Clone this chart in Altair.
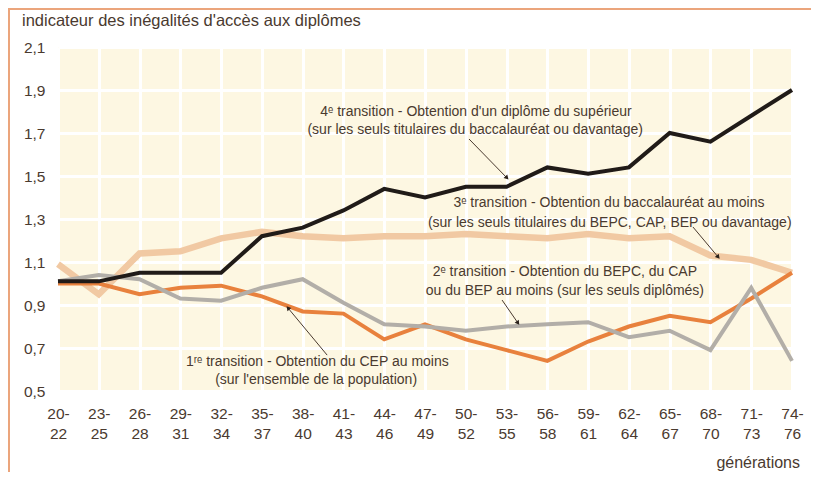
import altair as alt
import pandas as pd
import json

# ---------------- data ----------------
generations = ["20-22", "23-25", "26-28", "29-31", "32-34", "35-37", "38-40",
               "41-43", "44-46", "47-49", "50-52", "53-55", "56-58", "59-61",
               "62-64", "65-67", "68-70", "71-73", "74-76"]

t1_cep = [1.00, 1.00, 0.95, 0.98, 0.99, 0.94, 0.87, 0.86, 0.74, 0.81,
          0.74, 0.69, 0.64, 0.73, 0.80, 0.85, 0.82, 0.93, 1.05]
t2_bepc = [1.01, 1.04, 1.02, 0.93, 0.92, 0.98, 1.02, 0.91, 0.81, 0.80,
           0.78, 0.80, 0.81, 0.82, 0.75, 0.78, 0.69, 0.98, 0.64]
t3_bac = [1.09, 0.95, 1.14, 1.15, 1.21, 1.24, 1.22, 1.21, 1.22, 1.22,
          1.23, 1.22, 1.21, 1.23, 1.21, 1.22, 1.13, 1.11, 1.05]
t4_sup = [1.01, 1.01, 1.05, 1.05, 1.05, 1.22, 1.26, 1.34, 1.44, 1.40,
          1.45, 1.45, 1.54, 1.51, 1.54, 1.70, 1.66, 1.78, 1.90]

y_ticks = [0.5, 0.7, 0.9, 1.1, 1.3, 1.5, 1.7, 1.9, 2.1]

title_text = "indicateur des inégalités d'accès aux diplômes"
x_title_text = "générations"

ann_lines = [
    "4ᵉ transition - Obtention d'un diplôme du supérieur",
    "(sur les seuls titulaires du baccalauréat ou davantage)",
    "3ᵉ transition - Obtention du baccalauréat au moins",
    "(sur les seuls titulaires du BEPC, CAP, BEP ou davantage)",
    "2ᵉ transition - Obtention du BEPC, du CAP",
    "ou du BEP au moins (sur les seuls diplômés)",
    "1ʳᵉ transition - Obtention du CEP au moins",
    "(sur l'ensemble de la population)",
]
ann_x = [10.25, 10.23, 13.51, 13.53, 12.43, 12.43, 6.36, 6.33]
ann_y = [1.798, 1.714, 1.374, 1.281, 1.053, 0.965, 0.635, 0.551]

arrow_x = [10.08, 15.57, 10.89, 6.60]
arrow_y = [1.672, 1.263, 0.923, 0.667]
arrow_x2 = [11.01, 16.19, 11.28, 5.64]
arrow_y2 = [1.491, 1.123, 0.816, 0.886]
arrow_angle = [136, 140, 145, 320]

# ---------------- styles ----------------
FONT = "Liberation Sans"
TXT = "#4a3a2f"
PLOT_W, PLOT_H = 734, 344

label_pairs = [[g.split("-")[0] + "-", g.split("-")[1]] for g in generations]
x_label_expr = json.dumps(label_pairs) + "[datum.value]"

x_scale = alt.Scale(domain=[0, len(generations) - 1], nice=False, zero=False)
y_scale = alt.Scale(domain=[0.5, 2.1], nice=False, zero=False)

x_axis = alt.Axis(values=list(range(len(generations))), labelExpr=x_label_expr,
                  title=None, grid=True, gridColor="white", gridWidth=3,
                  gridOpacity=1,
                  domain=False, ticks=False, labelPadding=15, labelFontSize=15.5,
                  labelLineHeight=20, labelColor=TXT, labelFont=FONT,
                  labelFlush=False, labelOverlap=False, labelBaseline="top")
y_axis = alt.Axis(values=y_ticks,
                  labelExpr="replace(format(datum.value, '.1f'), '.', ',')",
                  title=None, grid=True, gridColor="white", gridWidth=3,
                  gridOpacity=1,
                  domain=False, ticks=False, labelPadding=13, labelFontSize=15.5,
                  labelColor=TXT, labelFont=FONT, labelFlush=False,
                  labelOverlap=False)


def X(field):
    return alt.X(field, scale=x_scale, axis=x_axis)


def Y(field):
    return alt.Y(field, scale=y_scale, axis=y_axis)


series = [
    ("3e", t3_bac, "#f1c9a3", 6.5),
    ("1re", t1_cep, "#e8813d", 4),
    ("2e", t2_bepc, "#b2aea8", 4),
    ("4e", t4_sup, "#201b18", 4),
]

layers = []
for name, vals, col, w in series:
    df = pd.DataFrame({"idx": list(range(len(generations))), "value": vals})
    layers.append(
        alt.Chart(df).mark_line(color=col, strokeWidth=w, strokeJoin="miter").encode(
            x=X("idx:Q"), y=Y("value:Q"))
    )

ann_df = pd.DataFrame({"idx": ann_x, "value": ann_y, "t": ann_lines})
ann = alt.Chart(ann_df).mark_text(align="center", baseline="middle", font=FONT,
                                   fontSize=14, color=TXT).encode(
    x=X("idx:Q"), y=Y("value:Q"), text="t:N")

arr_df = pd.DataFrame({"idx": arrow_x, "value": arrow_y, "x2": arrow_x2,
                       "y2": arrow_y2, "a": arrow_angle})
arrows = alt.Chart(arr_df).mark_rule(color=TXT, strokeWidth=1).encode(
    x=X("idx:Q"), y=Y("value:Q"), x2="x2:Q", y2="y2:Q")

head_df = pd.DataFrame({"idx": arrow_x2, "value": arrow_y2, "a": arrow_angle})
heads = alt.Chart(head_df).mark_point(shape="triangle-up", filled=True, size=26,
                                      color="#2a211b", opacity=1).encode(
    x=X("idx:Q"), y=Y("value:Q"), angle=alt.Angle("a:Q", scale=None))

title = alt.Chart(pd.DataFrame({"t": [title_text]})).mark_text(
    align="left", baseline="middle", font=FONT, fontSize=16.5, color=TXT).encode(
    x=alt.value(-36), y=alt.value(-26), text="t:N")

xtitle = alt.Chart(pd.DataFrame({"t": [x_title_text]})).mark_text(
    align="right", baseline="alphabetic", font=FONT, fontSize=16, color=TXT).encode(
    x=alt.value(742), y=alt.value(421), text="t:N")

border_top = alt.Chart(pd.DataFrame({"a": [0]})).mark_rule(
    color="#eba57c", strokeWidth=2).encode(
    x=alt.value(-50), x2=alt.value(PLOT_W + 19), y=alt.value(-38))
border_left = alt.Chart(pd.DataFrame({"a": [0]})).mark_rule(
    color="#eba57c", strokeWidth=2).encode(
    x=alt.value(-49), y=alt.value(-39), y2=alt.value(PLOT_H + 81))

chart = alt.layer(*layers, arrows, heads, ann, title, xtitle, border_top,
                  border_left).properties(
    width=PLOT_W, height=PLOT_H,
    background="white",
    autosize=alt.AutoSizeParams(type="none"),
    padding={"left": 50, "top": 39, "right": 19, "bottom": 81},
).configure_view(fill="#fdf7e2", stroke=None)

chart.save("out.html", embed_options={"renderer": "svg", "actions": False})
